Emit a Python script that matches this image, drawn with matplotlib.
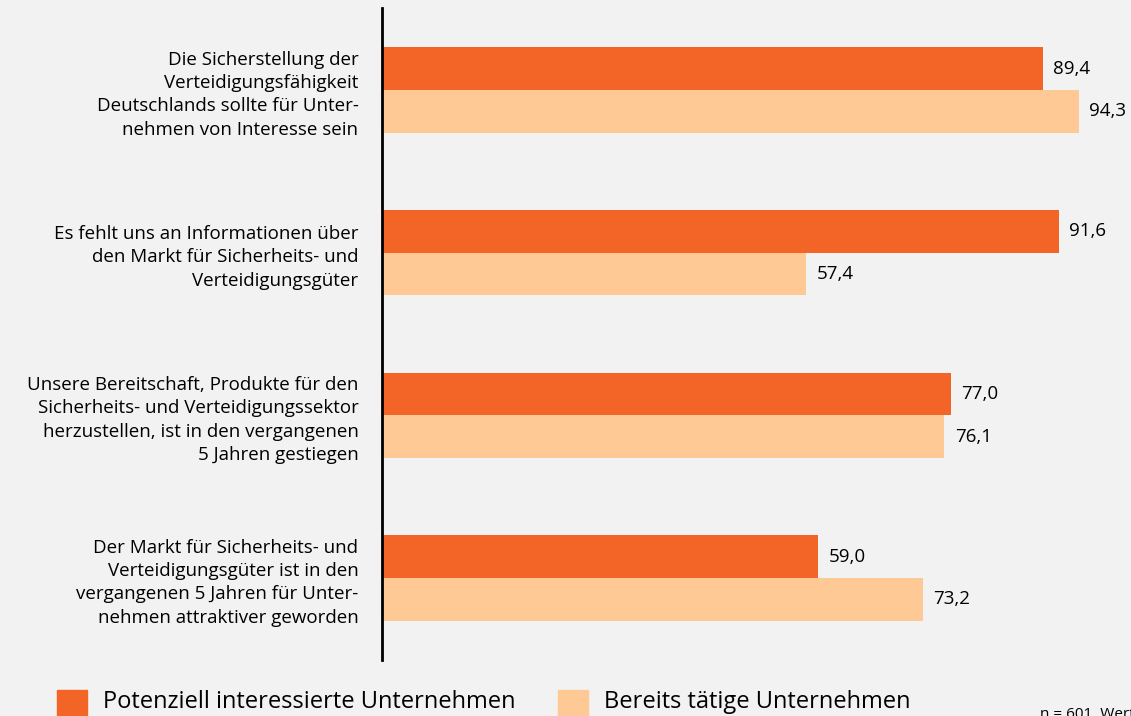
import matplotlib.pyplot as plt
from matplotlib.patches import Rectangle

plt.rcParams['font.family'] = ['Open Sans', 'DejaVu Sans']

categories = [
    "Die Sicherstellung der\nVerteidigungsfähigkeit\nDeutschlands sollte für Unter-\nnehmen von Interesse sein",
    "Es fehlt uns an Informationen über\nden Markt für Sicherheits- und\nVerteidigungsgüter",
    "Unsere Bereitschaft, Produkte für den\nSicherheits- und Verteidigungssektor\nherzustellen, ist in den vergangenen\n5 Jahren gestiegen",
    "Der Markt für Sicherheits- und\nVerteidigungsgüter ist in den\nvergangenen 5 Jahren für Unter-\nnehmen attraktiver geworden",
]
potenziell = [89.4, 91.6, 77.0, 59.0]
bereits = [94.3, 57.4, 76.1, 73.2]
series_names = ["Potenziell interessierte Unternehmen", "Bereits tätige Unternehmen"]

c_dark = '#f26526'
c_light = '#fec994'
bg = '#f2f2f2'

fig = plt.figure(figsize=(11.31, 7.16), dpi=100, facecolor=bg)
ax = fig.add_axes([382/1131, 56/716, 739/1131, 652/716], facecolor=bg)

h = 0.262
ypos = list(range(len(categories)))
for i in ypos:
    ax.barh(i - h/2, potenziell[i], height=h, color=c_dark)
    ax.barh(i + h/2, bereits[i], height=h, color=c_light)
    ax.text(potenziell[i] + 1.4, i - h/2, f"{potenziell[i]:.1f}".replace('.', ','),
            va='center', ha='left', fontsize=13.5)
    ax.text(bereits[i] + 1.4, i + h/2, f"{bereits[i]:.1f}".replace('.', ','),
            va='center', ha='left', fontsize=13.5)

ax.set_xlim(0, 100)
ax.set_ylim(3.503, -0.503)
ax.set_yticks(ypos)
ax.set_yticklabels(categories, fontsize=13.5, linespacing=1.38)
ax.tick_params(axis='y', length=0, pad=17)
ax.set_xticks([])
for s in ['top', 'right', 'bottom']:
    ax.spines[s].set_visible(False)
ax.spines['left'].set_linewidth(2)
ax.spines['left'].set_color('black')

# legend
fig.patches.append(Rectangle((57/1131, -0.01), 30/1131, 33/716, transform=fig.transFigure,
                             color=c_dark))
fig.patches.append(Rectangle((558/1131, -0.01), 30/1131, 33/716, transform=fig.transFigure,
                             color=c_light))
fig.text(103/1131, 14/716, series_names[0], fontsize=17, va='center', ha='left')
fig.text(604/1131, 14/716, series_names[1], fontsize=17, va='center', ha='left')
fig.text(1040/1131, 2/716, "n = 601, Werte in Prozent", fontsize=11, va='center', ha='left')

fig.savefig('out.png', dpi=100, facecolor=bg)
